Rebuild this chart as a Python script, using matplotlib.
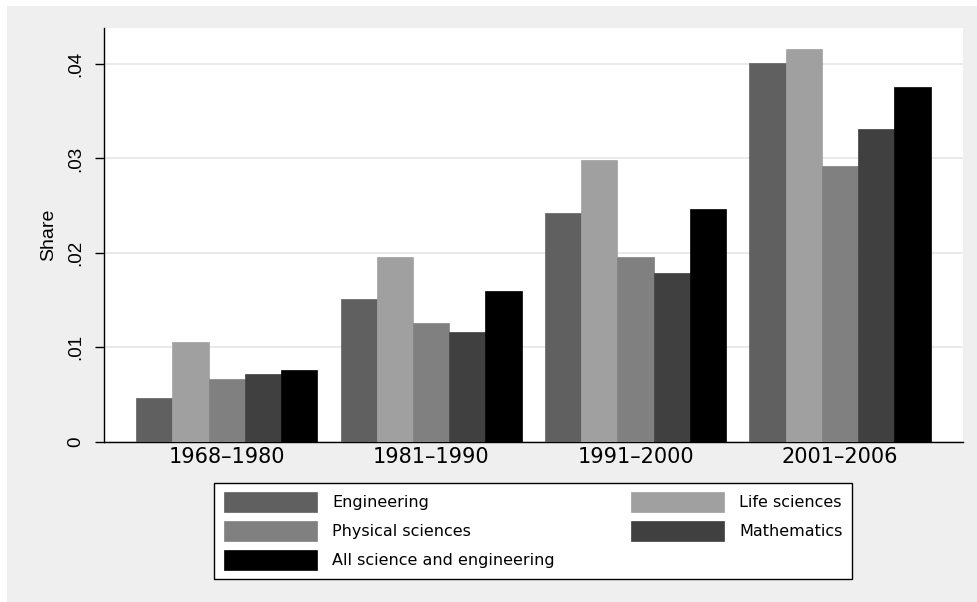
import numpy as np
import matplotlib
matplotlib.use('Agg')
import matplotlib.pyplot as plt
from matplotlib.patches import Rectangle

periods = ['1968\u20131980', '1981\u20131990', '1991\u20132000', '2001\u20132006']
fields = ['Engineering', 'Life sciences', 'Physical sciences', 'Mathematics',
          'All science and engineering']

engineering = [0.00466, 0.01515, 0.0242, 0.0401]
life_sciences = [0.01053, 0.0196, 0.0298, 0.0416]
physical_sciences = [0.00667, 0.0126, 0.01953, 0.02917]
mathematics = [0.00717, 0.01159, 0.0179, 0.03316]
all_se = [0.00756, 0.01593, 0.02462, 0.03757]

yticks = [0, 0.01, 0.02, 0.03, 0.04]
ytick_labels = ['0', '.01', '.02', '.03', '.04']

series = [engineering, life_sciences, physical_sciences, mathematics, all_se]
colors = ['#606060', '#a0a0a0', '#808080', '#404040', '#000000']

fig = plt.figure(figsize=(9.77, 6.02), dpi=100, facecolor='white')
fig.patches.append(Rectangle((7 / 977, 0), 1, (602 - 6) / 602, transform=fig.transFigure,
                             facecolor='#efefef', edgecolor='none', zorder=-10))

ax = fig.add_axes([104 / 977, (602 - 441.7) / 602, (962.7 - 104) / 977, (441.7 - 28.3) / 602])
ax.set_facecolor('white')

x = np.arange(len(periods))
w = 0.1773
bars = []
for i, (vals, c) in enumerate(zip(series, colors)):
    b = ax.bar(x + (i - 2) * w, vals, w, color=c, edgecolor=c, linewidth=0.5,
               label=fields[i], zorder=3)
    bars.append(b)

ax.set_xlim(-0.6, 3.6)
ax.set_ylim(0, 0.04379)
ax.set_yticks(yticks)
ax.set_yticklabels(ytick_labels, fontfamily='Liberation Sans', fontsize=13.5,
                   rotation=90, va='center')
ax.set_xticks(x)
ax.set_xticklabels(periods, fontsize=15)
ax.tick_params(axis='x', length=0, pad=4)
ax.tick_params(axis='y', length=6.5, width=1, pad=8, direction='out')

ax.grid(axis='y', color='#e6e6e6', linewidth=1.2, zorder=0)
ax.set_axisbelow(True)
for s in ['top', 'right']:
    ax.spines[s].set_visible(False)
for s in ['left', 'bottom']:
    ax.spines[s].set_linewidth(1)
    ax.spines[s].set_color('black')

ax.set_ylabel('Share', fontfamily='Liberation Sans', fontsize=14)
ax.yaxis.set_label_coords(-0.0547, 0.5)

# column-wise fill: Eng, Phys, All | Life, Math
order = [0, 2, 4, 1, 3]
leg = ax.legend([bars[i] for i in order], [fields[i] for i in order], ncol=2,
                loc='upper left', mode='expand', borderaxespad=0,
                bbox_to_anchor=(214.3 / 977, (602 - 580.3) / 602, 638 / 977, 97.6 / 602),
                bbox_transform=fig.transFigure, fontsize=11.5,
                handlelength=5.8, handleheight=1.5, handletextpad=0.97,
                labelspacing=0.6, borderpad=0.6, fancybox=False, framealpha=1)
leg.get_frame().set_edgecolor('black')
leg.get_frame().set_linewidth(1)

fig.savefig('out.png', dpi=100, facecolor=fig.get_facecolor())
